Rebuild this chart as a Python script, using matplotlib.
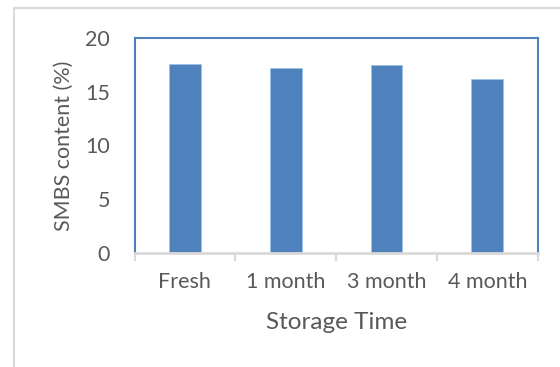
import numpy as np
import matplotlib.pyplot as plt
from matplotlib.lines import Line2D

plt.rcParams['font.family'] = ['Lato', 'DejaVu Sans']

# SMBS content per storage time
categories = ['Fresh', '1 month', '3 month', '4 month']
smbs = [17.55, 17.25, 17.45, 16.2]

bar_color = '#4f81bd'
text_color = '#595959'
grid_gray = '#d9d9d9'

fig = plt.figure(figsize=(5.6, 3.67), dpi=100)
ax = fig.add_axes([134.5/560, 1 - 252.7/367, (537.7 - 134.5)/560, (252.7 - 38)/367])

x = np.arange(len(categories))
ax.bar(x, smbs, width=0.315, color=bar_color, edgecolor='#9dc3e6', linewidth=0.6, zorder=2)

ax.set_xlim(-0.5, len(categories) - 0.5)
ax.set_ylim(0, 20)
ax.set_yticks([0, 5, 10, 15, 20])
ax.set_xticks(x)
ax.set_xticklabels(categories)
ax.tick_params(axis='y', length=0, pad=17.5, labelsize=15.5, labelcolor=text_color)
ax.tick_params(axis='x', length=0, pad=14, labelsize=15.5, labelcolor=text_color)

# tick marks between the categories
ax.set_xticks(np.arange(-0.5, len(categories)), minor=True)
ax.tick_params(axis='x', which='minor', length=6, width=1.5, color=grid_gray)

for side in ['left', 'top', 'right']:
    ax.spines[side].set_color('#4f81bd')
    ax.spines[side].set_linewidth(1.5)
ax.spines['bottom'].set_color(grid_gray)
ax.spines['bottom'].set_linewidth(2)
ax.spines['bottom'].set_zorder(3)

ax.set_xlabel('Storage Time', fontsize=17.5, color=text_color, labelpad=14)
ax.set_ylabel('SMBS content (%)', fontsize=15.5, color=text_color, labelpad=8)

# outer chart frame
fig.add_artist(Line2D([14/560, 14/560], [0, 1 - 8/367], transform=fig.transFigure,
                      color=grid_gray, linewidth=1.5))
fig.add_artist(Line2D([14/560, 1], [1 - 8/367, 1 - 8/367], transform=fig.transFigure,
                      color=grid_gray, linewidth=1.5))

fig.savefig('out.png', dpi=100)
